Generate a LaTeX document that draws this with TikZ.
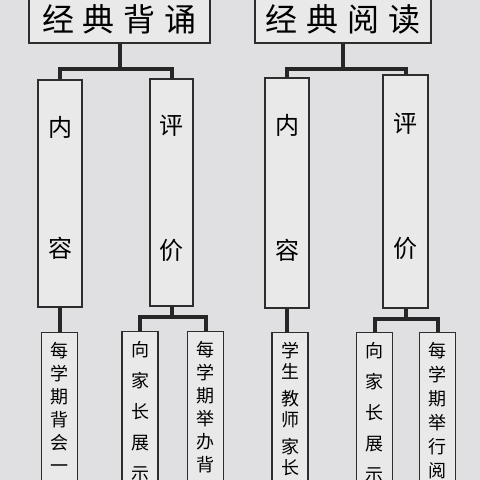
\documentclass[tikz,border=0pt]{standalone}
\usepackage{fontspec}
\newfontfamily\cjk{Noto Sans CJK SC}
\usetikzlibrary{positioning}
\definecolor{nenbang}{RGB}{224,224,226}
\definecolor{nenhop}{RGB}{233,233,234}
\definecolor{netve}{RGB}{45,45,45}
\newcommand{\cotchu}[2][23pt]{\parbox[t][170pt][t]{36pt}{\centering\fontsize{18pt}{#1}\selectfont #2}}

\begin{document}
\begin{tikzpicture}[x=1pt,y=-1pt,
	tieude/.style={draw=netve,line width=1.3pt,fill=nenhop,inner sep=0pt,minimum height=48pt,
		font=\cjk\fontsize{32pt}{36pt}\selectfont},
	nhanh/.style={draw=netve,line width=1.2pt,fill=nenhop,inner sep=0pt,align=center,
		font=\cjk\fontsize{24pt}{29pt}\selectfont},
	la/.style={draw=netve,line width=1.2pt,fill=nenhop,anchor=north,inner xsep=0pt,inner ysep=10pt,
		font=\cjk},
	noi/.style={line width=4pt,black!85}]
			\clip (0,0) rectangle (480,480);
			\fill[nenbang] (0,0) rectangle (480,480);
			% cay ben trai
			\node[tieude,minimum width=181pt] (t1) at (119.5,19) {经\hskip9pt典\hskip9pt背\hskip9pt诵};
			\node[nhanh,minimum width=44pt,minimum height=227pt] (nr1) at (60,193.5) {内\\[92pt]容\rule[-14pt]{0pt}{1pt}};
			\node[nhanh,minimum width=43pt,minimum height=227pt] (pj1) at (171.5,192.5) {评\\[96pt]价\rule[-10pt]{0pt}{1pt}};
			\node[la] (l1) at (59.5,332) {\cotchu{每\\学\\期\\背\\会\\一}};
			\node[la] (l2) at (140,331) {\cotchu[31pt]{向\\家\\长\\展\\示}};
			\node[la] (l3) at (205.5,331) {\cotchu{每\\学\\期\\举\\办\\背}};
			\draw[noi] (t1.south) -- ++(0,25) -| (nr1.north);
			\draw[noi] (t1.south) -- ++(0,25) -| (pj1.north);
			\draw[noi] (nr1.south) -- (nr1.south |- l1.north);
			\draw[noi] (pj1.south) -- ++(0,10) -| (l2.north);
			\draw[noi] (pj1.south) -- ++(0,10) -| (l3.north);
			% cay ben phai
			\node[tieude,minimum width=176pt] (t2) at (343,19) {经\hskip9pt典\hskip9pt阅\hskip9pt读};
			\node[nhanh,minimum width=44pt,minimum height=230pt] (nr2) at (287,193) {内\\[96pt]容\rule[-12pt]{0pt}{1pt}};
			\node[nhanh,minimum width=45pt,minimum height=233pt] (pj2) at (405.5,191.5) {评\\[96pt]价\rule[-12pt]{0pt}{1pt}};
			\node[la] (l4) at (290,332) {\cotchu[21pt]{学\\生\\[6pt]教\\师\\[6pt]家\\长}};
			\node[la] (l5) at (374.5,332) {\cotchu[31pt]{向\\家\\长\\展\\示}};
			\node[la] (l6) at (437.5,332) {\cotchu[24pt]{每\\学\\期\\举\\行\\阅}};
			\draw[noi] (t2.south) -- ++(0,25) -| (nr2.north);
			\draw[noi] (t2.south) -- ++(0,25) -| (pj2.north);
			\draw[noi] (nr2.south) -- (nr2.south |- l4.north);
			\draw[noi] (pj2.south) -- ++(0,10) -| (l5.north);
			\draw[noi] (pj2.south) -- ++(0,10) -| (l6.north);
		\end{tikzpicture}
\end{document}
